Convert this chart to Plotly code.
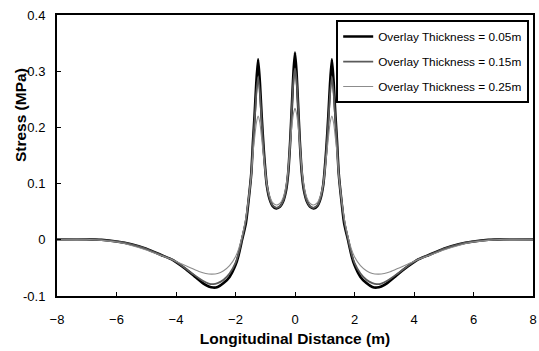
import plotly.graph_objects as go

# Longitudinal distance (m) sample positions
x_a = [-8.0, -7.0, -6.5, -6.0, -5.5, -5.0, -4.5, -4.1, -3.7, -3.4, -3.1, -2.9, -2.75, -2.6, -2.4, -2.2,
       -2.0, -1.9, -1.78, -1.65, -1.55, -1.47, -1.41, -1.36, -1.30, -1.24, -1.18, -1.12, -1.05, -0.95,
       -0.85, -0.75, -0.63, -0.5, -0.4, -0.3, -0.23, -0.16, -0.1, -0.05, 0.0,
       0.05, 0.1, 0.16, 0.23, 0.3, 0.4, 0.5, 0.63, 0.75, 0.85, 0.95, 1.05, 1.12, 1.18, 1.24,
       1.30, 1.36, 1.41, 1.47, 1.55, 1.65, 1.78, 1.9, 2.0, 2.2, 2.4, 2.6, 2.75, 2.9, 3.1, 3.4,
       3.7, 4.1, 4.5, 5.0, 5.5, 6.0, 6.5, 7.0, 8.0]

# Overlay thickness 0.05 m
stress_005 = [0.001, 0.001, 0.0, -0.003, -0.008, -0.016, -0.027, -0.036, -0.051, -0.064, -0.077, -0.083, -0.085, -0.084, -0.077, -0.066,
              -0.045, -0.028, 0.0, 0.03, 0.075, 0.118, 0.177, 0.22, 0.28, 0.321, 0.28, 0.22, 0.16, 0.098,
              0.072, 0.060, 0.056, 0.059, 0.068, 0.088, 0.118, 0.177, 0.245, 0.30, 0.333,
              0.30, 0.245, 0.177, 0.118, 0.088, 0.068, 0.059, 0.056, 0.060, 0.072, 0.098, 0.16, 0.22, 0.28, 0.321,
              0.28, 0.22, 0.177, 0.118, 0.075, 0.03, 0.0, -0.028, -0.045, -0.066, -0.077, -0.084, -0.085, -0.083, -0.077, -0.064,
              -0.051, -0.036, -0.027, -0.016, -0.008, -0.003, 0.0, 0.001, 0.001]

# Overlay thickness 0.15 m
stress_015 = [0.001, 0.001, 0.0, -0.003, -0.008, -0.016, -0.027, -0.036, -0.050, -0.062, -0.073, -0.078, -0.079, -0.077, -0.071, -0.060,
              -0.041, -0.025, 0.002, 0.036, 0.077, 0.118, 0.172, 0.21, 0.26, 0.29, 0.26, 0.21, 0.155, 0.098,
              0.073, 0.061, 0.057, 0.060, 0.069, 0.090, 0.120, 0.177, 0.24, 0.285, 0.305,
              0.285, 0.24, 0.177, 0.120, 0.090, 0.069, 0.060, 0.057, 0.061, 0.073, 0.098, 0.155, 0.21, 0.26, 0.29,
              0.26, 0.21, 0.172, 0.118, 0.077, 0.036, 0.002, -0.025, -0.041, -0.060, -0.071, -0.077, -0.079, -0.078, -0.073, -0.062,
              -0.050, -0.036, -0.027, -0.016, -0.008, -0.003, 0.0, 0.001, 0.001]

x_b = [-8.0, -7.0, -6.5, -6.0, -5.5, -5.0, -4.5, -4.1, -3.8, -3.5, -3.2, -3.0, -2.8, -2.6, -2.4, -2.2,
       -2.0, -1.9, -1.78, -1.65, -1.55, -1.47, -1.41, -1.36, -1.30, -1.24, -1.18, -1.12, -1.05, -0.95,
       -0.85, -0.75, -0.63, -0.5, -0.4, -0.3, -0.23, -0.16, -0.1, -0.05, 0.0,
       0.05, 0.1, 0.16, 0.23, 0.3, 0.4, 0.5, 0.63, 0.75, 0.85, 0.95, 1.05, 1.12, 1.18, 1.24,
       1.30, 1.36, 1.41, 1.47, 1.55, 1.65, 1.78, 1.9, 2.0, 2.2, 2.4, 2.6, 2.8, 3.0, 3.2, 3.5,
       3.8, 4.1, 4.5, 5.0, 5.5, 6.0, 6.5, 7.0, 8.0]

# Overlay thickness 0.25 m
stress_025 = [0.001, 0.001, -0.001, -0.004, -0.010, -0.018, -0.028, -0.036, -0.043, -0.050, -0.057, -0.060, -0.061, -0.060, -0.055, -0.046,
              -0.030, -0.017, 0.006, 0.040, 0.078, 0.115, 0.155, 0.18, 0.207, 0.22, 0.208, 0.18, 0.145, 0.100,
              0.078, 0.066, 0.062, 0.065, 0.075, 0.097, 0.125, 0.170, 0.205, 0.225, 0.234,
              0.225, 0.205, 0.170, 0.125, 0.097, 0.075, 0.065, 0.062, 0.066, 0.078, 0.100, 0.145, 0.18, 0.208, 0.22,
              0.207, 0.18, 0.155, 0.115, 0.078, 0.040, 0.006, -0.017, -0.030, -0.046, -0.055, -0.060, -0.061, -0.060, -0.057, -0.050,
              -0.043, -0.036, -0.028, -0.018, -0.010, -0.004, -0.001, 0.001, 0.001]

x_ticks = [-8, -6, -4, -2, 0, 2, 4, 6, 8]
y_ticks = [-0.1, 0, 0.1, 0.2, 0.3, 0.4]
y_tick_text = ["-0.1", "0", "0.1", "0.2", "0.3", "0.4"]
y_range = [-0.1, 0.4]

FONT = "Liberation Sans, Arial, sans-serif"

fig = go.Figure()
fig.add_trace(go.Scatter(x=x_a, y=stress_005, mode="lines", name="Overlay Thickness = 0.05m",
                         legendgroup="a",
                         line=dict(color="#000000", width=2.6, shape="spline", smoothing=0.6)))
fig.add_trace(go.Scatter(x=x_a, y=stress_015, mode="lines", name="Overlay Thickness = 0.15m",
                         legendgroup="b",
                         line=dict(color="#5a5a5a", width=1.8, shape="spline", smoothing=0.6)))
fig.add_trace(go.Scatter(x=x_b, y=stress_025, mode="lines", name="Overlay Thickness = 0.25m",
                         legendgroup="c",
                         line=dict(color="#8c8c8c", width=1.1, shape="spline", smoothing=0.6)))
# empty trace so the inside-tick overlay axis is drawn
fig.add_trace(go.Scatter(x=[], y=[], yaxis="y2", showlegend=False, hoverinfo="skip"))

fig.update_layout(
    width=539, height=351,
    margin=dict(l=57, r=2, t=15, b=55),
    plot_bgcolor="white", paper_bgcolor="white",
    showlegend=True,
    legend=dict(x=0.992, y=0.982, xanchor="right", yanchor="top",
                bgcolor="rgba(255,255,255,0)", bordercolor="black", borderwidth=2,
                font=dict(family=FONT, size=11.8, color="black"),
                tracegroupgap=6, traceorder="grouped"),
    xaxis=dict(range=[-8, 8], tickvals=x_ticks, ticklabelstandoff=10,
               showline=True, linecolor="black", linewidth=2, mirror=True,
               ticks="inside", ticklen=4, tickwidth=1, tickcolor="black",
               showgrid=False, zeroline=False,
               tickfont=dict(family=FONT, size=13, color="black"),
               title=dict(text="<b>Longitudinal Distance (m)</b>", standoff=8,
                          font=dict(family=FONT, size=15.5, color="black"))),
    yaxis=dict(range=y_range, tickvals=y_ticks, ticktext=y_tick_text,
               showline=True, linecolor="black", linewidth=2, mirror=True,
               ticks="outside", ticklen=7, tickwidth=1, tickcolor="rgba(0,0,0,0)",
               showgrid=False, zeroline=False,
               tickfont=dict(family=FONT, size=13, color="black")),
    yaxis2=dict(range=y_range, tickvals=y_ticks, overlaying="y", anchor="x", side="left",
                showticklabels=False, showline=False, showgrid=False, zeroline=False,
                ticks="inside", ticklen=4, tickwidth=1, tickcolor="black"),
    annotations=[dict(text="<b>Stress (MPa)</b>", textangle=-90, showarrow=False,
                      xref="paper", yref="paper", x=-0.077, y=0.645,
                      xanchor="center", yanchor="middle",
                      font=dict(family=FONT, size=15.5, color="black"))],
)

fig.write_html("out.html")
